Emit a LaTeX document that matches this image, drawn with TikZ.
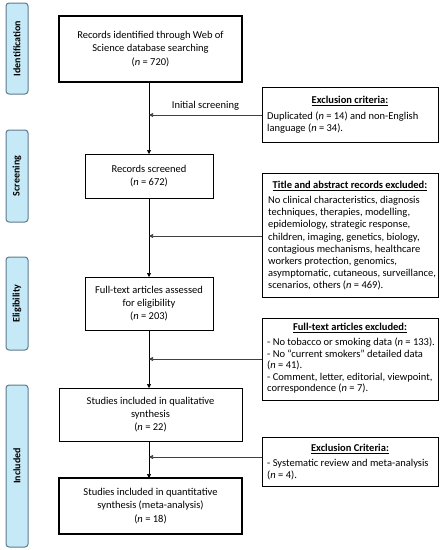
\documentclass[tikz,border=0pt]{standalone}
\usepackage{fontspec}
\setmainfont{Carlito}
\usetikzlibrary{arrows.meta,shadows}
\definecolor{barfill}{HTML}{C6E9F8}
\definecolor{barline}{HTML}{5C7B8E}
\begin{document}
\begin{tikzpicture}[x=1pt,y=-1pt,
  bar/.style={draw=barline,fill=barfill,line width=1pt,rounded corners=3pt,inner sep=0pt},
  bartext/.style={rotate=90,font=\bfseries\fontsize{10}{12}\selectfont},
  maintext/.style={align=center,font=\fontsize{10.5}{13.4}\selectfont},
  sidebox/.style={draw,line width=1pt,fill=white,drop shadow={shadow xshift=1pt,shadow yshift=-1pt,opacity=0.4}},
  sidehead/.style={font=\bfseries\fontsize{10.5}{12}\selectfont,inner sep=0pt,anchor=north},
  sidetext/.style={align=left,inner sep=0pt,anchor=north west},
  flow/.style={line width=0.7pt,-{Triangle[length=4pt,width=4pt]}},
  feed/.style={line width=0.7pt,draw=black!75,-{Triangle[length=4pt,width=4pt]}}
]
\useasboundingbox (0,0) rectangle (442,550);
% side bars
\draw[bar] (6,3) rectangle (28,94);
\node[bartext] (lid) at (17,48.5) {Identification};
\draw[bar] (6,130) rectangle (28,222);
\node[bartext] (lsc) at (17,176) {Screening};
\draw[bar] (6,257) rectangle (28,350);
\node[bartext] (lel) at (17,303.5) {Eligibility};
\draw[bar] (6,385) rectangle (28,547);
\node[bartext] (lin) at (17,466) {Included};

% main boxes
\draw[line width=1.8pt] (59,16) rectangle (242,82);
\node[maintext] (b1) at (150.5,49) {Records identified through Web of\\Science database searching\\(\textit{n} = 720)};
\coordinate (b1b) at (149,82);

\draw[line width=0.6pt] (85,154) rectangle (213,198);
\node[maintext] (b2) at (149,176) {Records screened\\(\textit{n} = 672)};
\coordinate (b2t) at (149,154);
\coordinate (b2b) at (149,198);

\draw[line width=0.6pt] (85,277) rectangle (213,330);
\node[maintext] (b3) at (149,303.5) {Full-text articles assessed\\for eligibility\\(\textit{n} = 203)};
\coordinate (b3t) at (149,277);
\coordinate (b3b) at (149,330);

\draw[line width=1pt] (59,388) rectangle (242,441);
\node[maintext] (b4) at (150.5,414.5) {Studies included in qualitative\\synthesis\\(\textit{n} = 22)};
\coordinate (b4t) at (149,388);
\coordinate (b4b) at (149,441);

\draw[line width=1.8pt] (59,478) rectangle (242,534);
\node[maintext] (b5) at (150.5,506) {Studies included in quantitative\\synthesis (meta-analysis)\\(\textit{n} = 18)};
\coordinate (b5t) at (149,478);

% side boxes
\draw[sidebox] (262,87) rectangle (438,142);
\node[sidehead] (h1) at (350,96) {\underline{Exclusion criteria:}};
\node[sidetext,font=\fontsize{10.5}{12}\selectfont] (s1) at (267,112) {Duplicated (\textit{n} = 14) and non-English\\language (\textit{n} = 34).};
\coordinate (s1l) at (262,115);

\draw[sidebox] (262,173) rectangle (438,297);
\node[sidehead] (h2) at (350,181) {\underline{Title and abstract records excluded:}};
\node[sidetext,font=\fontsize{10.5}{12.2}\selectfont] (s2) at (268,196) {No clinical characteristics, diagnosis\\techniques, therapies, modelling,\\epidemiology, strategic response,\\children, imaging, genetics, biology,\\contagious mechanisms, healthcare\\workers protection, genomics,\\asymptomatic, cutaneous, surveillance,\\scenarios, others (\textit{n} = 469).};
\coordinate (s2l) at (262,236);

\draw[sidebox] (262,318) rectangle (438,400);
\node[sidehead] (h3) at (350,323) {\underline{Full-text articles excluded:}};
\node[sidetext,font=\fontsize{10.5}{11.4}\selectfont] (s3) at (267,338) {- No tobacco or smoking data (\textit{n} = 133).\\- No “current smokers” detailed data\\(\textit{n} = 41).\\- Comment, letter, editorial, viewpoint,\\correspondence (\textit{n} = 7).};
\coordinate (s3l) at (262,359);

\draw[sidebox] (262,437) rectangle (438,486);
\node[sidehead] (h4) at (350,444) {\underline{Exclusion Criteria:}};
\node[sidetext,font=\fontsize{10.5}{11.6}\selectfont] (s4) at (267,459) {- Systematic review and meta-analysis\\(\textit{n} = 4).};
\coordinate (s4l) at (262,457);

% junctions on main line
\coordinate (j1) at (149,115);
\coordinate (j2) at (149,236);
\coordinate (j3) at (149,359);
\coordinate (j4) at (149,457);

% connectors
\draw[flow] (b1b) -- (b2t);
\draw[flow] (b2b) -- (b3t);
\draw[flow] (b3b) -- (b4t);
\draw[flow] (b4b) -- (b5t);
\draw[feed] (s1l) -- (j1) node[pos=0.5,above=1pt,font=\fontsize{10.5}{12}\selectfont,text=black] (lbl) {Initial screening};
\draw[feed] (s2l) -- (j2);
\draw[feed] (s3l) -- (j3);
\draw[feed] (s4l) -- (j4);
\end{tikzpicture}
\end{document}
